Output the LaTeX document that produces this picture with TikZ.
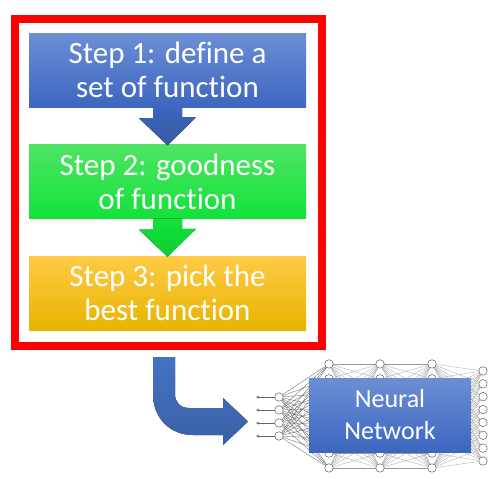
\documentclass[tikz,border=0pt]{standalone}
\usepackage{fontspec}
\setmainfont[Ligatures=NoCommon]{Carlito}
\usetikzlibrary{positioning,calc,backgrounds}
\definecolor{bluetop}{RGB}{108,142,212}
\definecolor{bluebot}{RGB}{60,102,192}
\definecolor{greentop}{RGB}{80,228,100}
\definecolor{greenbot}{RGB}{18,226,58}
\definecolor{yellowtop}{RGB}{255,202,70}
\definecolor{yellowbot}{RGB}{232,180,0}
\definecolor{arrowblue}{RGB}{68,114,196}

\begin{document}
\begin{tikzpicture}[x=1pt,y=-1pt,
  stepbox/.style={rectangle,minimum width=277pt,minimum height=74pt,inner sep=0pt,
    text=white,align=center,font=\fontsize{31}{34}\selectfont},
  neuron/.style={circle,draw=black!75,fill=white,line width=0.4pt,inner sep=0pt,minimum size=8.5pt},
  netbox/.style={rectangle,minimum width=162pt,minimum height=74pt,inner sep=0pt,
    text=white,align=center,font=\fontsize{26}{32}\selectfont,top color=bluetop,bottom color=bluebot}]
\useasboundingbox (0,0) rectangle (496,479);

% the three steps
\node [stepbox,top color=bluetop,bottom color=bluebot] (s1) at (167.5,70) {Step 1: define a\\set of function};
\node [stepbox,top color=greentop,bottom color=greenbot] (s2) at (167.5,181.5) {Step 2: goodness\\of function};
\node [stepbox,top color=yellowtop,bottom color=yellowbot] (s3) at (167.5,293) {Step 3: pick the\\best function};
\node [rectangle,draw=red,line width=8pt,minimum width=307pt,minimum height=327pt] (frame) at (168.5,182.5) {};

\foreach \a/\b/\c/\d in {s1/s2/bluebot/arrowblue!80!black, s2/s3/greenbot/greenbot!90!black}
  \fill [top color=\c,bottom color=\d] ($(\a.south)+(-14.5,0)$) -- ++(0,11) -- ++(-14,0)
    -- ($(\b.north)+(0,1)$) -- ++(28.5,-28) -- ++(-14,0) -- ($(\a.south)+(14.5,0)$) -- cycle;

% bent arrow to the network
\begin{scope}[shift={(frame.south)}]
\fill [top color=arrowblue,bottom color=arrowblue!85!black]
  (-15.5,7) -- (6.5,7) -- (6.5,44) .. controls (6.5,52) and (11.5,58) .. (20.5,58)
  -- (54.5,58) -- (54.5,48) -- (79.5,71.5) -- (54.5,95) -- (54.5,85) -- (24.5,85)
  .. controls (1.5,85) and (-15.5,68) .. (-15.5,44) -- cycle;
\end{scope}

% neural network
\foreach \i in {1,...,4} {
  \node [neuron] (n1-\i) at (279,{384+13*\i}) {};
  \coordinate (in-\i) at (256,{384+13*\i});
  \draw [black!60,line width=0.4pt,->,>=stealth] (n1-\i) -- (in-\i);
}
\foreach \l/\x in {2/329,3/380,4/432}
  \foreach \i in {1,...,8}
    \node [neuron] (n\l-\i) at (\x,{349.1+14.86*\i}) {};
\foreach \i in {1,...,8}
  \node [neuron] (n5-\i) at (483,{358.1+12.86*\i}) {};

\begin{scope}[on background layer]
\foreach \i in {1,...,4}
  \foreach \j in {1,...,8}
    \draw [black!65,line width=0.3pt] (n1-\i) -- (n2-\j);
\foreach \l/\m in {2/3,3/4,4/5}
  \foreach \i in {1,...,8}
    \foreach \j in {1,...,8}
      \draw [black!40,line width=0.25pt] (n\l-\i) -- (n\m-\j);
\end{scope}

\node [netbox] (net) at (390,415) {Neural\\Network};
\end{tikzpicture}
\end{document}
